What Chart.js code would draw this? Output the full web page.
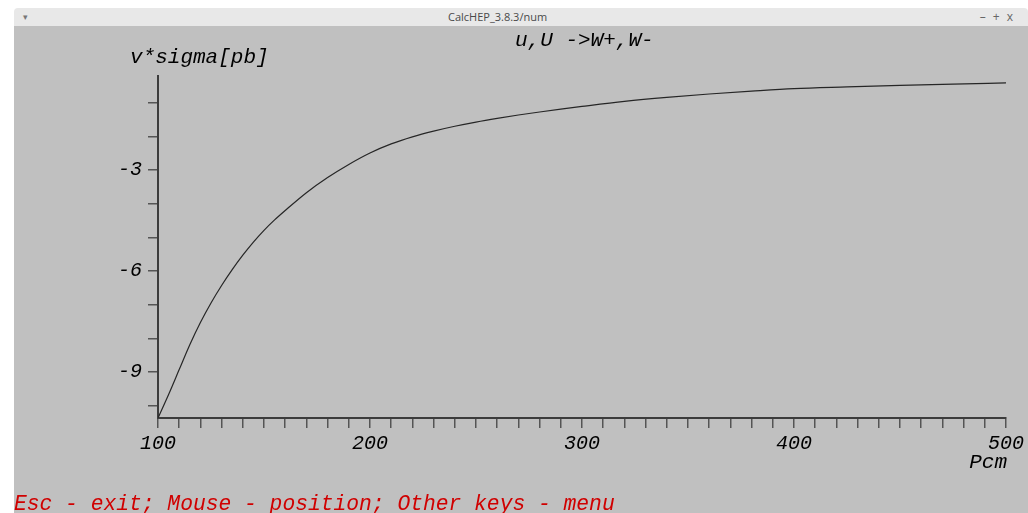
<!DOCTYPE html>
<html>
<head>
<meta charset="utf-8">
<title>CalcHEP_3.8.3/num</title>
<script src="https://cdn.jsdelivr.net/npm/chart.js@4/dist/chart.umd.min.js"></script>
<style>
  html, body { margin: 0; padding: 0; width: 1028px; height: 513px; overflow: hidden; background: #ffffff; }
  #bar { position: absolute; left: 14px; top: 8px; width: 1014px; height: 18px; background: #e8e8e8;
         border-radius: 4px 4px 0 0; font: 11px "Open Sans", "DejaVu Sans", sans-serif; color: #4a4a4a; }
  #bar span { position: absolute; top: 2px; line-height: 14px; }
  #menu { left: 9px; font-size: 9px; color: #777; }
  #name { left: 434px; }
  #ctl { right: 8px; font-size: 12px; letter-spacing: 7px; color: #666; }
  #plot { position: absolute; left: 14px; top: 26px; width: 1014px; height: 487px; background: #c0c0c0; }
  canvas { display: block; }
</style>
</head>
<body>
<div id="bar"><span id="menu">&#9662;</span><span id="name">CalcHEP_3.8.3/num</span><span id="ctl">&#8211;+x</span></div>
<div id="plot"><canvas id="c" width="1014" height="487"></canvas></div>
<script>
// Cross-section curve: Pcm [GeV] against v*sigma [pb]
const pcm = [100, 105, 110, 115, 120, 125, 130, 135, 140, 145, 150, 155, 160, 170, 180, 190,
             200, 210, 220, 230, 240, 250, 260, 270, 280, 290, 300, 320, 340, 360, 380, 400,
             425, 450, 475, 500];
const vSigma = [-10.37, -9.67, -8.93, -8.19, -7.53, -6.95, -6.43, -5.96, -5.53, -5.14, -4.79, -4.48,
                -4.20, -3.67, -3.22, -2.83, -2.49, -2.22, -2.01, -1.84, -1.695, -1.57, -1.46, -1.36,
                -1.27, -1.185, -1.105, -0.955, -0.835, -0.735, -0.65, -0.575, -0.525, -0.48, -0.44, -0.405];

// Axis ranges and labelled ticks
const xRange = [100, 500];
const yRange = [-10.37, -0.2];
const xLabelled = [100, 200, 300, 400, 500];
const yLabelled = [-3, -6, -9];

const processTitle = 'u,U ->W+,W-';
const yTitle = 'v*sigma[pb]';
const xTitle = 'Pcm';
const helpLine = 'Esc - exit; Mouse - position; Other keys - menu';

const monoFont = { family: '"Liberation Mono", "DejaVu Sans Mono", monospace', style: 'italic', size: 20 };

const textLayer = {
  id: 'textLayer',
  afterDraw(chart) {
    const ctx = chart.ctx;
    const area = chart.chartArea;
    ctx.save();
    ctx.font = 'italic 21px "Liberation Mono", monospace';
    ctx.textBaseline = 'alphabetic';
    ctx.fillStyle = '#000000';
    ctx.textAlign = 'left';
    ctx.fillText(processTitle, 501, 20);
    ctx.fillText(yTitle, 116, 37);
    ctx.textAlign = 'right';
    ctx.fillText(xTitle, area.right + 1, 442);
    ctx.textAlign = 'left';
    ctx.font = 'italic 21.3px "Liberation Mono", monospace';
    ctx.fillStyle = '#d00000';
    ctx.fillText(helpLine, 0, 484);
    ctx.restore();
  }
};

new Chart(document.getElementById('c'), {
  type: 'scatter',
  data: {
    datasets: [{
      data: pcm.map((x, i) => ({ x, y: vSigma[i] })),
      showLine: true,
      borderColor: '#262626',
      borderWidth: 1.2,
      pointRadius: 0,
      cubicInterpolationMode: 'monotone'
    }]
  },
  options: {
    responsive: false,
    devicePixelRatio: 1,
    animation: false,
    layout: { padding: { left: 0, top: 50, right: 22, bottom: 0 } },
    plugins: { legend: { display: false }, tooltip: { enabled: false } },
    scales: {
      x: {
        type: 'linear',
        min: xRange[0],
        max: xRange[1],
        afterFit: s => { s.height = 95; },
        border: { display: true, color: '#3c3c3c', width: 2 },
        grid: { drawOnChartArea: false, drawTicks: true, tickLength: 10, color: '#555555', lineWidth: 1.5 },
        ticks: {
          stepSize: 10,
          autoSkip: false,
          maxRotation: 0,
          padding: 4,
          color: '#000000',
          font: monoFont,
          callback: v => (xLabelled.includes(v) ? String(v) : '')
        }
      },
      y: {
        type: 'linear',
        min: yRange[0],
        max: yRange[1],
        afterFit: s => { s.width = 144; },
        border: { display: true, color: '#3c3c3c', width: 2 },
        grid: { drawOnChartArea: false, drawTicks: true, tickLength: 10, color: '#555555', lineWidth: 1.5 },
        ticks: {
          stepSize: 1,
          includeBounds: false,
          padding: 6,
          color: '#000000',
          font: monoFont,
          callback: v => (yLabelled.includes(v) ? String(v) : '')
        }
      }
    }
  },
  plugins: [textLayer]
});
</script>
</body>
</html>
